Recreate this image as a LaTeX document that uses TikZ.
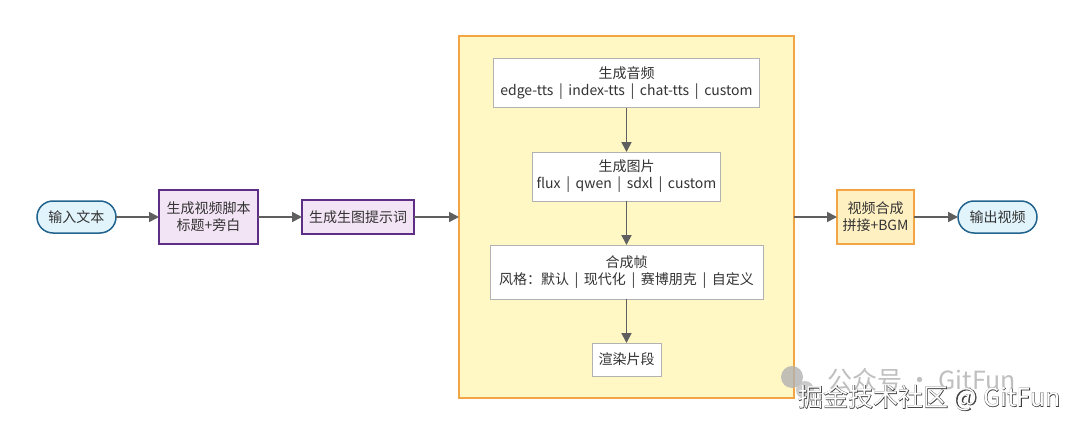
\documentclass[tikz,border=0pt]{standalone}
\usepackage{fontspec}
\setmainfont{Noto Sans CJK SC}
\newfontfamily\markfont[FakeBold=3]{Noto Sans CJK SC}
\usetikzlibrary{arrows.meta,positioning}
\tikzset{>/.tip={Triangle[length=10pt,width=10pt]}}
\newcommand{\pipesep}{\hspace{0.4em}|\hspace{0.4em}}
\definecolor{inktext}{HTML}{333333}
\definecolor{flowgray}{HTML}{5F5F5F}
\definecolor{termline}{HTML}{23648E}
\definecolor{termfill}{HTML}{E1F4FC}
\definecolor{scriptline}{HTML}{5E2D86}
\definecolor{scriptfill}{HTML}{F3E4F5}
\definecolor{stageline}{HTML}{F2A544}
\definecolor{stagefill}{HTML}{FFF7C4}
\definecolor{composefill}{HTML}{FFF0C2}
\tikzset{
  term/.style={draw=termline,fill=termfill,line width=1.5pt,rounded corners=16pt,
    minimum width=79pt,minimum height=32pt},
  scriptbox/.style={draw=scriptline,fill=scriptfill,line width=1.5pt,align=center},
  stagebox/.style={draw=stageline,fill=stagefill,line width=1.5pt},
  stepbox/.style={draw=black!30,fill=white,line width=1pt,align=center,inner xsep=3pt},
  composebox/.style={draw=stageline,fill=composefill,line width=1.5pt,align=center},
  flow/.style={->,draw=flowgray,line width=1.8pt},
}

\begin{document}
\begin{tikzpicture}[x=1pt,y=-1pt,font=\fontsize{14}{17}\selectfont,
    every node/.append style={text=inktext,outer sep=0pt}]
  \useasboundingbox[fill=white] (0,0) rectangle (1080,428);

  \node[term](input) at (76.5,217){输入文本};
  \node[scriptbox,minimum width=99pt,minimum height=54pt,right=43pt of input](script){生成视频脚本\\标题+旁白};
  \node[scriptbox,minimum width=112pt,minimum height=34pt,right=44pt of script](prompt){生成生图提示词};
  \node[stagebox,minimum width=335pt,minimum height=362pt,right=45pt of prompt](stage){};

  \node[stepbox,minimum width=266pt,minimum height=49pt,below=23pt of stage.north](audio){生成音频\\edge-tts\pipesep index-tts\pipesep chat-tts\pipesep custom};
  \node[stepbox,minimum width=188pt,minimum height=49pt,below=44pt of audio](image){生成图片\\flux\pipesep qwen\pipesep sdxl\pipesep custom};
  \node[stepbox,minimum width=273pt,minimum height=54pt,below=44pt of image](frame){合成帧\\风格：默认\pipesep 现代化\pipesep 赛博朋克\pipesep 自定义};
  \node[stepbox,minimum width=69pt,minimum height=33pt,below=44pt of frame](render){渲染片段};

  \node[composebox,minimum width=77pt,minimum height=54pt,right=43pt of stage](compose){视频合成\\拼接+BGM};
  \node[term,right=44pt of compose](output){输出视频};

  \draw[flow] (input) -- (script);
  \draw[flow] (script) -- (prompt);
  \draw[flow] (prompt) -- (stage);
  \draw[flow] (audio) -- (image);
  \draw[flow] (image) -- (frame);
  \draw[flow] (frame) -- (render);
  \draw[flow] (stage) -- (compose);
  \draw[flow] (compose) -- (output);

  % watermark
  \fill[black!30,opacity=.8] (792,377) circle (11);
  \fill[black!25,opacity=.8] (805,390) circle (9);
  \node[anchor=west,text=black!25,font=\fontsize{25}{25}\selectfont](wmtop) at (824,380){公众号 · GitFun};
  \node[anchor=west,text=black!75,font=\markfont\fontsize{25}{25}\selectfont](wmshade) at (795,398){掘金技术社区 @ GitFun};
  \node[anchor=west,text=white,font=\fontsize{25}{25}\selectfont](wmbottom) at (795,398){掘金技术社区 @ GitFun};
\end{tikzpicture}
\end{document}
